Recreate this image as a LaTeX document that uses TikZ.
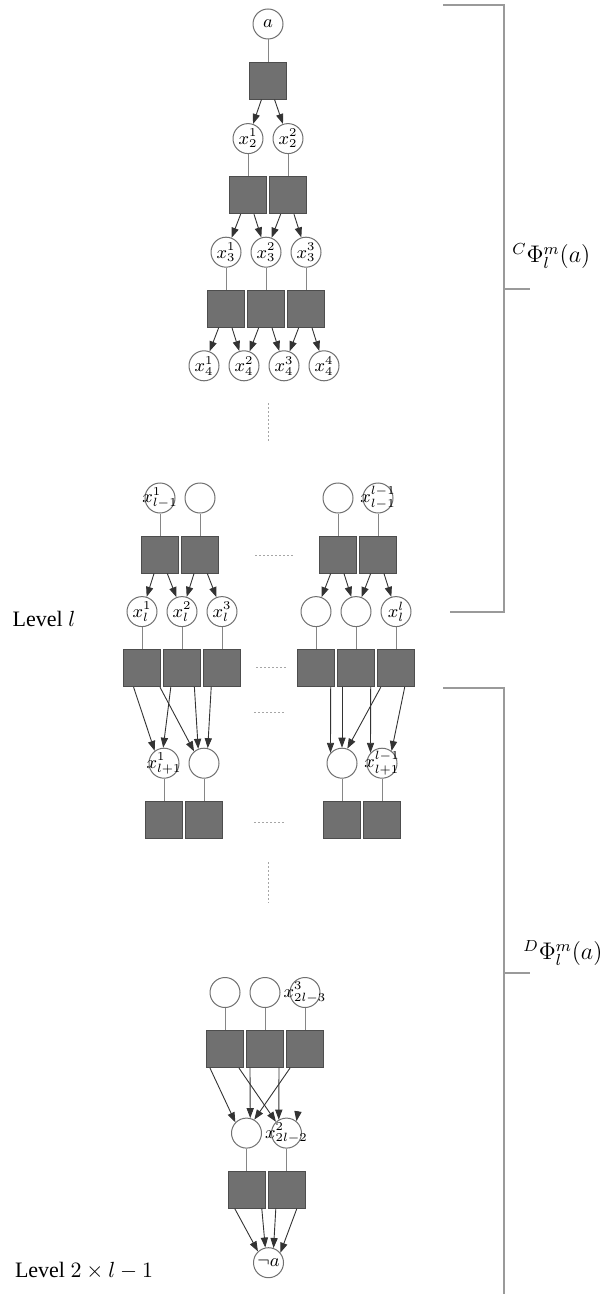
\documentclass[tikz,border=0pt]{standalone}
\usepackage{fontspec}
\setmainfont{Liberation Serif}
\usetikzlibrary{positioning,arrows.meta}

\definecolor{facfill}{HTML}{707070}
\definecolor{facline}{HTML}{4D4D4D}
\definecolor{varline}{HTML}{707070}
\definecolor{linkgray}{HTML}{868686}
\definecolor{bracegray}{HTML}{9A9A9A}

\tikzset{
	var/.style={circle, draw=varline, fill=white, line width=0.5pt, minimum size=15pt, inner sep=0pt, font=\small},
	factor/.style={rectangle, draw=facline, fill=facfill, line width=0.5pt, minimum size=18.5pt, inner sep=0pt},
	link/.style={draw=linkgray, line width=0.5pt},
	flow/.style={draw=black!80, line width=0.45pt, -{Triangle[length=5pt,width=3.6pt]}},
	gap/.style={draw=black!35, line width=0.5pt, dash pattern=on 1pt off 1pt},
	brace/.style={draw=bracegray, line width=0.6pt},
	const/.style={inner sep=0pt},
	every label/.append style={font=\small, inner sep=0pt},
}

\begin{document}
\begin{tikzpicture}[on grid, node distance=28.3pt]
	\useasboundingbox (0,0) rectangle (302pt,-647pt);

	\node[var] (a) at (134pt,-12pt) {$a$};
	\node[factor, below = of a](f1){};
	\node[var, below left = 29pt and 10pt of f1](x21){$x_2^1$};
	\node[var, right = 20pt of x21](x22){$x_2^2$};
	\node[factor, below = of x21](f21){};
	\node[factor, below = of x22](f22){};
	\node[var, below left = 28.5pt and 11pt of f21](x31){$x_3^1$};
	\node[var, right = 20pt of x31](x32){$x_3^2$};
	\node[var, right = 20pt of x32](x33){$x_3^3$};
	\node[factor, below = of x31](f31){};
	\node[factor, below = of x32](f32){};
	\node[factor, below = of x33](f33){};
	\node[var, below left = 28.5pt and 11pt of f31](x41){$x_4^1$};
	\node[var, right = 20pt of x41](x42){$x_4^2$};
	\node[var, right = 20pt of x42](x43){$x_4^3$};
	\node[var, right = 20pt of x43](x44){$x_4^4$};

	\node[var, label=center:{$x_{l-1}^1$}] (m1) at (80pt,-249pt) {};
	\node[var, right = 20pt of m1](m2){};
	\node[var, right = 69pt of m2](m3){};
	\node[var, right = 20pt of m3, label=center:{$x_{l-1}^{l-1}$}](m4){};
	\node[factor, below = of m1](mf1){};
	\node[factor, below = of m2](mf2){};
	\node[factor, below = of m3](mf3){};
	\node[factor, below = of m4](mf4){};
	\node[var, below left = 28.5pt and 9pt of mf1](l1){$x_l^1$};
	\node[var, right = 20pt of l1](l2){$x_l^2$};
	\node[var, right = 20pt of l2](l3){$x_l^3$};
	\node[var, below left = 28.5pt and 11pt of mf3](r1){};
	\node[var, right = 20pt of r1](r2){};
	\node[var, right = 20pt of r2](r3){$x_l^l$};
	\node[factor, below = of l1](lf1){};
	\node[factor, below = of l2](lf2){};
	\node[factor, below = of l3](lf3){};
	\node[factor, below = of r1](rf1){};
	\node[factor, below = of r2](rf2){};
	\node[factor, below = of r3](rf3){};
	\node[var, below right = 47.5pt and 11pt of lf1, label=center:{$x_{l+1}^1$}](p1){};
	\node[var, right = 20pt of p1](p2){};
	\node[var, below right = 47.5pt and 13pt of rf1](q1){};
	\node[var, right = 20pt of q1, label=center:{$x_{l+1}^{l-1}$}](q2){};
	\node[factor, below = of p1](pf1){};
	\node[factor, below = of p2](pf2){};
	\node[factor, below = of q1](qf1){};
	\node[factor, below = of q2](qf2){};

	\node[var] (b1) at (112.5pt,-496.25pt) {};
	\node[var, right = 20pt of b1](b2){};
	\node[var, right = 20pt of b2, label=center:{$x_{2l-3}^3$}](b3){};
	\node[factor, below = of b1](bf1){};
	\node[factor, below = of b2](bf2){};
	\node[factor, below = of b3](bf3){};
	\node[var, below right = 42pt and 10.75pt of bf1](c1){};
	\node[var, right = 20pt of c1, label=center:{$x_{2l-2}^2$}](c2){};
	\node[factor, below = of c1](cf1){};
	\node[factor, below = of c2](cf2){};
	\node[var, below right = 36.5pt and 11pt of cf1](na){$\neg a$};

	\draw[link] (a) -- (f1);
	\draw[link] (x21) -- (f21);
	\draw[link] (x22) -- (f22);
	\draw[link] (x31) -- (f31);
	\draw[link] (x32) -- (f32);
	\draw[link] (x33) -- (f33);
	\draw[link] (m1) -- (mf1);
	\draw[link] (m2) -- (mf2);
	\draw[link] (m3) -- (mf3);
	\draw[link] (m4) -- (mf4);
	\draw[link] (l1) -- (lf1);
	\draw[link] (l2) -- (lf2);
	\draw[link] (l3) -- (lf3);
	\draw[link] (r1) -- (rf1);
	\draw[link] (r2) -- (rf2);
	\draw[link] (r3) -- (rf3);
	\draw[link] (p1) -- (pf1);
	\draw[link] (p2) -- (pf2);
	\draw[link] (q1) -- (qf1);
	\draw[link] (q2) -- (qf2);
	\draw[link] (b1) -- (bf1);
	\draw[link] (b2) -- (bf2);
	\draw[link] (b3) -- (bf3);
	\draw[link] (c1) -- (cf1);
	\draw[link] (c2) -- (cf2);

	\draw[flow] (f1) -- (x21);
	\draw[flow] (f1) -- (x22);
	\draw[flow] (f21) -- (x31);
	\draw[flow] (f21) -- (x32);
	\draw[flow] (f22) -- (x32);
	\draw[flow] (f22) -- (x33);
	\draw[flow] (f31) -- (x41);
	\draw[flow] (f31) -- (x42);
	\draw[flow] (f32) -- (x42);
	\draw[flow] (f32) -- (x43);
	\draw[flow] (f33) -- (x43);
	\draw[flow] (f33) -- (x44);
	\draw[flow] (mf1) -- (l1);
	\draw[flow] (mf1) -- (l2);
	\draw[flow] (mf2) -- (l2);
	\draw[flow] (mf2) -- (l3);
	\draw[flow] (mf3) -- (r1);
	\draw[flow] (mf3) -- (r2);
	\draw[flow] (mf4) -- (r2);
	\draw[flow] (mf4) -- (r3);

	\draw[flow] ([xshift=-4.2pt]lf1.south) -- (p1.127);
	\draw[flow] ([xshift=-0.5pt]lf1.south east) -- (p2.130);
	\draw[flow] ([xshift=-5.6pt]lf2.south) -- (p1.93);
	\draw[flow] ([xshift=6.2pt]lf2.south) -- (p2.112);
	\draw[flow] ([xshift=-5.4pt]lf3.south) -- (p2.76);
	\draw[flow] ([xshift=7.35pt]rf1.south) -- (q1.138);
	\draw[flow] ([xshift=-7pt]rf2.south) -- (q1.north);
	\draw[flow] ([xshift=-7.6pt]rf3.south) -- (q1.70);
	\draw[flow] ([xshift=7.35pt]rf2.south) -- (q2.138);
	\draw[flow] ([xshift=4.35pt]rf3.south) -- (q2.52);

	\draw[flow] ([xshift=-7.5pt]bf1.south) -- (c1.136);
	\draw[flow] ([xshift=7pt]bf1.south) -- (c2.133);
	\draw[flow] ([xshift=-7.5pt]bf2.south) -- (c1.76);
	\draw[flow] ([xshift=7pt]bf2.south) -- (c2.120);
	\draw[flow] ([xshift=-7.5pt]bf3.south) -- (c1.60);
	\coordinate (stub) at ([shift={(0.8pt,5.1pt)}]c2.50);
	\draw[flow] (stub) -- (c2.50);
	\draw[flow] ([xshift=-5.85pt]cf1.south) -- (na.133);
	\draw[flow] ([xshift=7.65pt]cf1.south) -- (na.102);
	\draw[flow] ([xshift=-5.35pt]cf2.south) -- (na.71);
	\draw[flow] ([xshift=5.15pt]cf2.south) -- (na.40);

	\draw[gap] (134pt,-201.5pt) -- (134pt,-220.5pt);
	\draw[gap] (127.5pt,-277.5pt) -- (147pt,-277.5pt);
	\draw[gap] (128pt,-333.5pt) -- (144pt,-333.5pt);
	\draw[gap] (127pt,-356pt) -- (143pt,-356pt);
	\draw[gap] (127pt,-411pt) -- (143pt,-411pt);
	\draw[gap] (134pt,-431pt) -- (134pt,-451.5pt);

	\draw[brace] (221.5pt,-2.5pt) -- (252pt,-2.5pt) -- (252pt,-306pt) -- (225pt,-306pt);
	\draw[brace] (252pt,-144.5pt) -- (265pt,-144.5pt);
	\draw[brace] (221.5pt,-344pt) -- (252pt,-344pt) -- (252pt,-647pt);
	\draw[brace] (252pt,-486.5pt) -- (265pt,-486.5pt);

	\node[const, font=\large, anchor=west] (cphi) at (256pt,-128pt) {${}^C\Phi_l^m(a)$};
	\node[const, font=\large, anchor=west] (dphi) at (261.5pt,-476.5pt) {${}^D\Phi_l^m(a)$};
	\node[const, font=\fontsize{11}{13}\selectfont] (lvl) at (22pt,-309.5pt) {Level $l$};
	\node[const, font=\fontsize{11}{13}\selectfont] (lvlend) at (42pt,-635.5pt) {Level $2\times l-1$};

\end{tikzpicture}
\end{document}
